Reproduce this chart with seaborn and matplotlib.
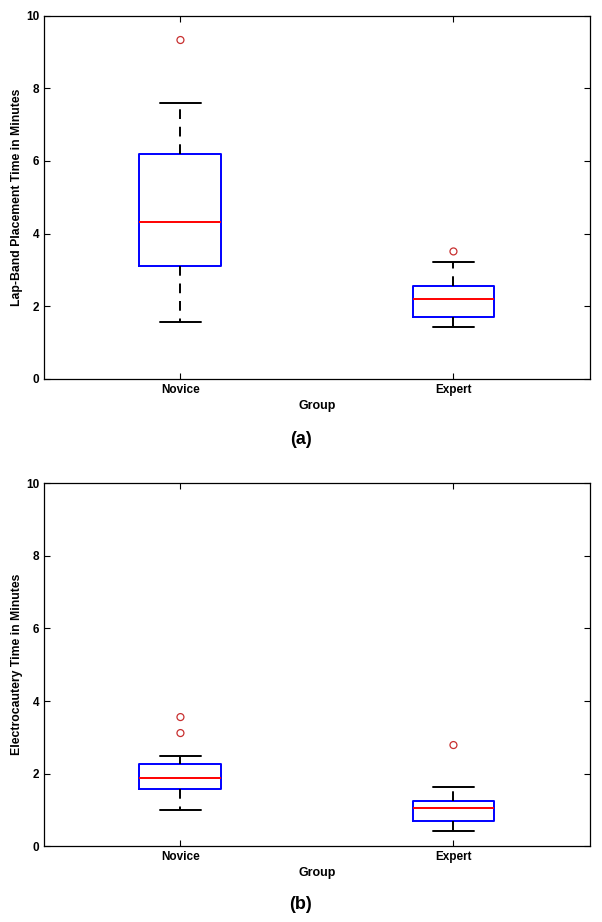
import numpy as np
import pandas as pd
import seaborn as sns
import matplotlib.pyplot as plt

# groups on the x axis
grupos = ['Novice', 'Expert']

# (a) Lap-Band placement time, summary
lap_whislo = [1.58, 1.44]
lap_q1 = [3.10, 1.70]
lap_med = [4.31, 2.20]
lap_q3 = [6.20, 2.57]
lap_whishi = [7.59, 3.23]
lap_out_grupo = ['Novice', 'Expert']
lap_out_valor = [9.33, 3.51]

# (b) Electrocautery time
ele_whislo = [0.99, 0.42]
ele_q1 = [1.57, 0.69]
ele_med = [1.89, 1.07]
ele_q3 = [2.26, 1.25]
ele_whishi = [2.48, 1.64]
ele_out_grupo = ['Novice', 'Novice', 'Expert']
ele_out_valor = [3.56, 3.12, 2.79]

sns.set_style('ticks')
plt.rcParams['font.family'] = ['Liberation Sans', 'DejaVu Sans']
plt.rcParams['font.weight'] = 'bold'
plt.rcParams['axes.labelweight'] = 'bold'
plt.rcParams['text.color'] = 'black'
plt.rcParams['axes.labelcolor'] = 'black'
plt.rcParams['xtick.color'] = 'black'
plt.rcParams['ytick.color'] = 'black'
plt.rcParams['axes.edgecolor'] = 'black'

fig = plt.figure(figsize=(6.02, 9.22), dpi=100)
ax1 = fig.add_axes([0.073, 0.589, 0.907, 0.394])
ax2 = fig.add_axes([0.073, 0.082, 0.907, 0.394])


def desenha(ax, whislo, q1, med, q3, whishi, out_g, out_v, ylabel):
    stats = []
    for i in range(len(grupos)):
        stats.append({'whislo': whislo[i], 'q1': q1[i], 'med': med[i],
                      'q3': q3[i], 'whishi': whishi[i], 'fliers': []})
    ax.bxp(stats, positions=range(len(grupos)), widths=0.30, showfliers=False,
           boxprops=dict(color='#0000ff', linewidth=1.4),
           medianprops=dict(color='#ff0000', linewidth=1.4),
           whiskerprops=dict(color='black', linewidth=1.4, linestyle=(0, (5, 4))),
           capprops=dict(color='black', linewidth=1.4), capwidths=0.15)
    # outliers
    outliers = pd.DataFrame({'Group': out_g, 'valor': out_v})
    sns.stripplot(data=outliers, x='Group', y='valor', order=grupos, jitter=False,
                  ax=ax, size=5, edgecolor='#c83030', linewidth=0.9)
    for c in ax.collections:
        c.set_facecolor('none')
        c.set_edgecolor('#c83030')
    ax.set_xlim(-0.5, 1.5)
    ax.set_ylim(0, 10)
    ax.set_yticks(np.arange(0, 11, 2))
    ax.set_xticks(range(len(grupos)))
    ax.set_xticklabels(grupos)
    ax.set_xlabel('Group', fontsize=9, fontweight='bold', labelpad=3)
    ax.set_ylabel(ylabel, fontsize=8.8, fontweight='bold')
    ax.yaxis.set_label_coords(-0.038, 0.5)
    ax.tick_params(direction='in', top=True, right=True, labelsize=8.5, length=4, width=0.8)
    for s in ax.spines.values():
        s.set_linewidth(0.9)


desenha(ax1, lap_whislo, lap_q1, lap_med, lap_q3, lap_whishi, lap_out_grupo, lap_out_valor,
        'Lap-Band Placement Time in Minutes')
desenha(ax2, ele_whislo, ele_q1, ele_med, ele_q3, ele_whishi, ele_out_grupo, ele_out_valor,
        'Electrocautery Time in Minutes')

fig.text(0.5, 1 - 439 / 922, '(a)', ha='center', va='center', fontsize=13, fontweight='bold')
fig.text(0.5, 1 - 904 / 922, '(b)', ha='center', va='center', fontsize=13, fontweight='bold')

fig.savefig('out.png', dpi=100)
